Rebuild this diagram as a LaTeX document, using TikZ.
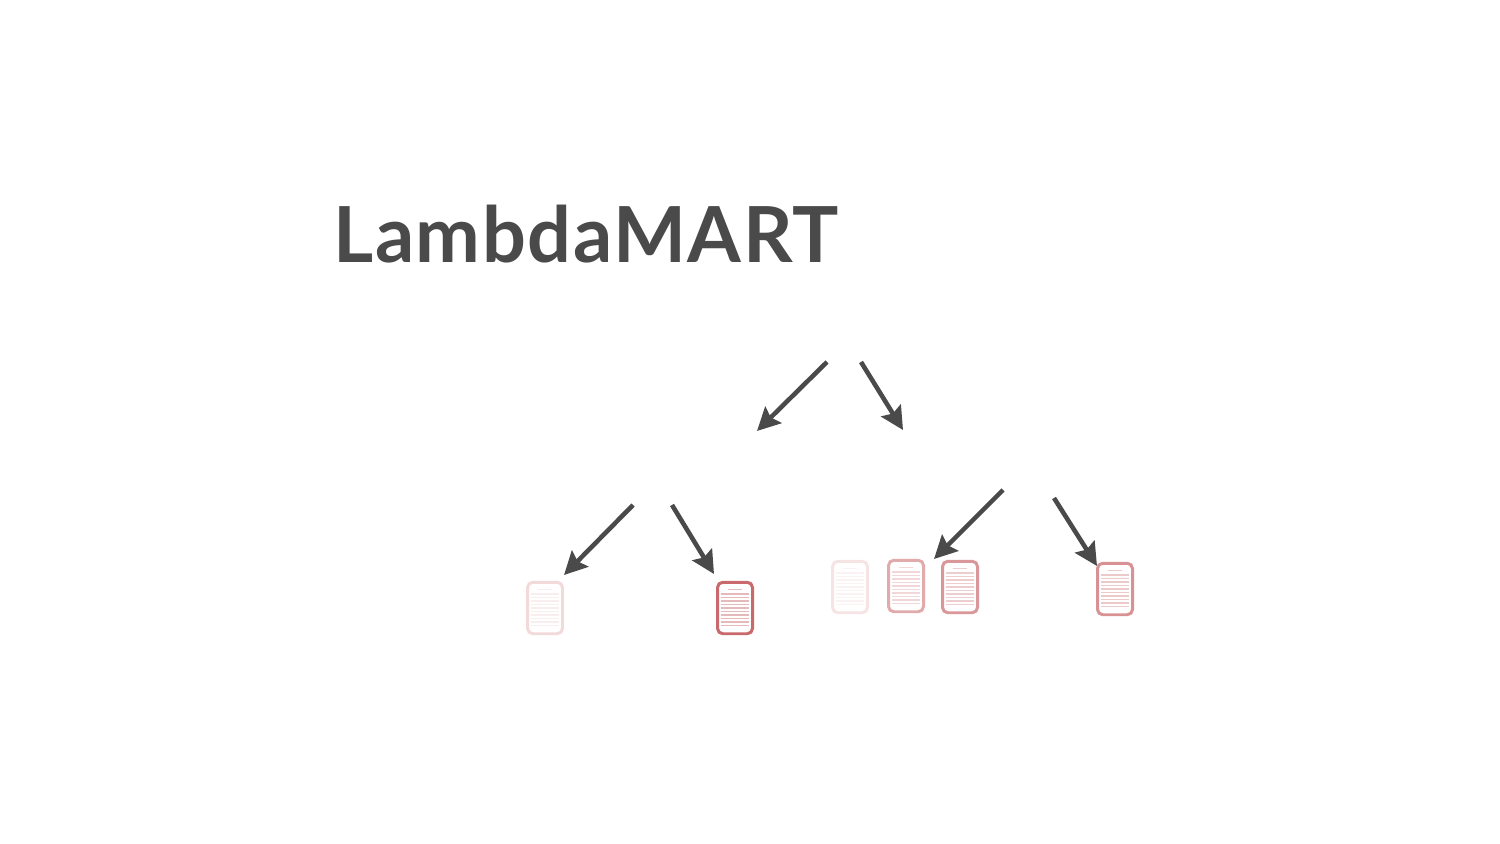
\documentclass[tikz,border=0pt]{standalone}
\usepackage{fontspec}
\setmainfont[LetterSpace=2]{Lato}
\usetikzlibrary{arrows.meta,positioning}
\definecolor{inkgrey}{HTML}{4A4A4A}
\definecolor{docred}{HTML}{C4585A}
\tikzset{
  treearrow/.style={draw=inkgrey,line width=2.6pt,-{Stealth[length=13pt,width=13pt,inset=2pt]}},
  docbox/.style={draw=docred!#1,fill=white,line width=1.7pt,rounded corners=3pt,minimum width=0.70cm,minimum height=1.03cm,inner sep=0pt},
  docline/.style={draw=docred!#1,line width=1pt}
}
\begin{document}
\begin{tikzpicture}[x=0.02cm,y=-0.02cm]
   \useasboundingbox (0,0) rectangle (1500,844);
   \node[font=\bfseries,inner sep=0pt,anchor=base west,text=inkgrey] (title) at (333,263) {\fontsize{44}{52}\selectfont LambdaMART};

   % documents: name/x/y/strength
   \foreach \name/\x/\y/\str/\lin in {d_1/545/608/22/10,d_2/735/608/90/42,d_3/850/587/16/7,d_4/906/586/50/24,d_5/960/587/62/30,d_6/1115/589/65/32}{
     \node[docbox=\str] (\name) at (\x,\y) {};
     \draw[docline=\lin,line width=0.5pt] ([xshift=-4pt,yshift=10.5pt]\name.center) -- ([xshift=4pt,yshift=10.5pt]\name.center);
     \foreach \k in {0,...,9}{
       \draw[docline=\lin] ([xshift=-8pt,yshift=8pt-\k*2pt]\name.center) -- ([xshift=8pt,yshift=8pt-\k*2pt]\name.center);
     }
   }

   \coordinate (a_1) at (827,362); \coordinate (b_1) at (757,431);
   \coordinate (a_2) at (861,362); \coordinate (b_2) at (903,430);
   \coordinate (a_3) at (633,505); \coordinate (b_3) at (564,575);
   \coordinate (a_4) at (672,505); \coordinate (b_4) at (714,574);
   \coordinate (a_5) at (1003,490); \coordinate (b_5) at (934,559);
   \coordinate (a_6) at (1054,498); \coordinate (b_6) at (1097,566);

   \foreach \i in {1,...,6}{
     \draw[treearrow] (a_\i) -- (b_\i);
   }
\end{tikzpicture}
\end{document}
